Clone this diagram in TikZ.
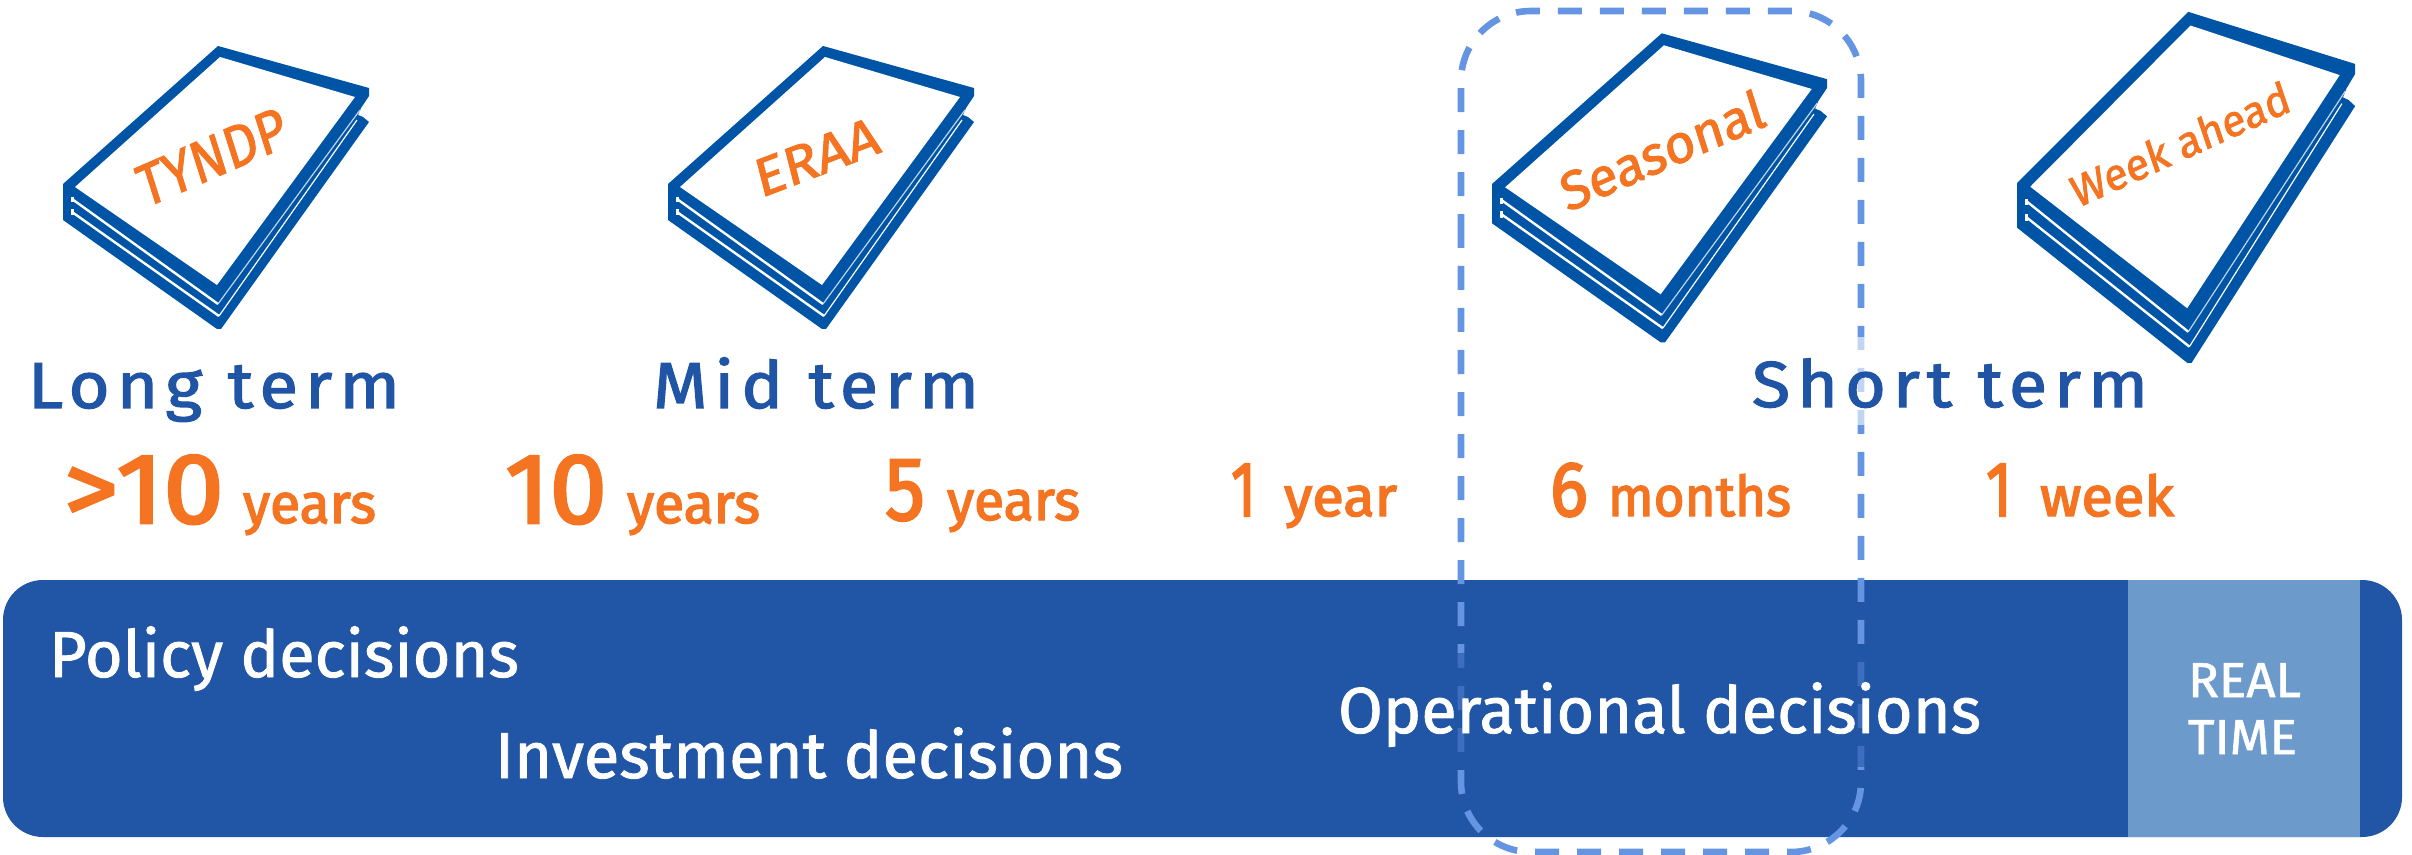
\documentclass[tikz,border=0pt]{standalone}
\usepackage{graphicx}
\usepackage{fontspec}
\setmainfont{Fira Sans}
\newfontfamily\medfont[FakeBold=1.3]{Fira Sans}
\newfontfamily\titlefont[FakeBold=1.8]{Fira Sans}
\newfontfamily\numfont[FakeBold=2.6]{Fira Sans}
\newfontfamily\spacedfont[LetterSpace=10,FakeBold=1.8]{Fira Sans}
\definecolor{barblue}{HTML}{2155A5}
\definecolor{rtblue}{HTML}{6C9ACB}
\definecolor{bookblue}{HTML}{0054A6}
\definecolor{dashblue}{HTML}{6595E2}
\definecolor{orng}{HTML}{F47421}
\definecolor{headblue}{HTML}{2054A5}
\newsavebox\fitbox
\newcommand\fitw[2]{\sbox\fitbox{#2}\pgfmathsetmacro\fitr{#1*0.5/\wd\fitbox}\scalebox{\fitr}[1]{\usebox\fitbox}}
\newcommand\fs[1]{\fontsize{#1}{#1}\selectfont}
\tikzset{
  txt/.style={inner sep=0pt,outer sep=0pt,anchor=base west},
  head/.style={txt,text=headblue},
  num/.style={txt,text=orng},
  bartext/.style={txt,text=white},
  booklabel/.style={inner sep=0pt,outer sep=0pt,anchor=center,text=orng,xslant=0.15},
  pageband/.style={white,line width=1.2pt},
  pagethin/.style={white,line width=.6pt},
  pagepale/.style={color=bookblue!25,line width=.6pt},
  dashbox/.style={draw=dashblue,line width=3.3pt,dash pattern=on 12pt off 9pt},
}
\newcommand\bookicon[4]{%
\begin{scope}[shift={(#1,#2)},xscale=#3,yscale=#4,shift={(-63,-184)}]
  \fill[bookblue] (218,46)--(369,88)--(369,96)--(361,108)--(358,115)--(363,117)--(369,122)--(221,329)--(217,329)--(63,220)--(63,184)--cycle;
  \fill[white] (220,57)--(355,97)--(217,285)--(75,187)--cycle;
  \draw[pageband] (72,199)--(218,304);
  \draw[pagepale] (218,304)--(360,110);
  \draw[pageband] (72,212)--(219,316);
  \draw[pagethin] (219,316)--(357,120);
  \draw[line width=1.5pt,white] (72,197)--(72,202);
  \draw[line width=1.5pt,white] (72,209)--(72,215);
\end{scope}}
\begin{document}
\begin{tikzpicture}[x=.5pt,y=-.5pt]
\useasboundingbox (0,0) rectangle (2412,855);
% bar
\fill[barblue,rounded corners=20pt] (3,580) rectangle (2402,837);
\fill[rtblue] (2128,580) rectangle (2360,837);
% books
\bookicon{63}{184}{1}{1}
\bookicon{668}{184}{1}{1}
\bookicon{1492}{184}{1.095}{1.092}
\bookicon{2017}{183}{1.105}{1.24}
% dashed frame
\draw[dashbox,rounded corners=35pt] (1461,154)--(1461,852)--(1861,852)--(1861,11)--(1461,11)--cycle;
\fill[barblue,opacity=.6] (1450,653) rectangle (1872,767);
\fill[white,opacity=.6] (1850,337) rectangle (1872,425);
% book titles
\node[booklabel,rotate=25] (tyndp) at (212,157) {\fitw{150}{\titlefont\fs{31}TYNDP}};
\node[booklabel,rotate=22] (eraa) at (817,157) {\fitw{124}{\titlefont\fs{28}ERAA}};
\node[booklabel,rotate=25] (seasonal) at (1662,150) {\fitw{207}{\titlefont\fs{28}Seasonal}};
\node[booklabel,rotate=26] (week) at (2180,144) {\fitw{224}{\titlefont\fs{23}Week ahead}};
% headings
\node[head] (long) at (28,408) {\fitw{372}{\spacedfont\fs{32.5}Long term}};
\node[head] (mid) at (653,408) {\fitw{326}{\spacedfont\fs{32.5}Mid term}};
\node[head] (short) at (1752,407) {\fitw{396}{\spacedfont\fs{32.5}Short term}};
% horizons
\node[num] (n1) at (64,523) {\fitw{160}{\numfont\fs{50}>10}};
\node[num] (u1) at (243,523) {\fitw{133}{\numfont\fs{28}years}};
\node[num] (n2) at (505,523) {\fitw{102}{\numfont\fs{50}10}};
\node[num] (u2) at (627,523) {\fitw{133}{\numfont\fs{28}years}};
\node[num] (n3) at (885,520) {\fitw{40}{\numfont\fs{45}5}};
\node[num] (u3) at (947,520) {\fitw{133}{\numfont\fs{28}years}};
\node[num] (n4) at (1231,516) {\fitw{25}{\numfont\fs{39}1}};
\node[num] (u4) at (1284,516) {\fitw{113}{\numfont\fs{28}year}};
\node[num] (n5) at (1550,516) {\fitw{38}{\numfont\fs{39}6}};
\node[num] (u5) at (1608,516) {\fitw{183}{\numfont\fs{28}months}};
\node[num] (n6) at (1986,516) {\fitw{26}{\numfont\fs{39}1}};
\node[num] (u6) at (2040,516) {\fitw{134}{\numfont\fs{28}week}};
% bar labels
\node[bartext] (policy) at (49,677) {\fitw{470}{\medfont\fs{32.5}Policy decisions}};
\node[bartext] (invest) at (495,778) {\fitw{628}{\medfont\fs{32.5}Investment decisions}};
\node[bartext] (oper) at (1338,733) {\fitw{643}{\medfont\fs{32.5}Operational decisions}};
\node[bartext] (real) at (2188,697) {\fitw{113}{\medfont\fs{24.5}REAL}};
\node[bartext] (time) at (2188,754) {\fitw{109}{\medfont\fs{24.5}TIME}};
\end{tikzpicture}
\end{document}
